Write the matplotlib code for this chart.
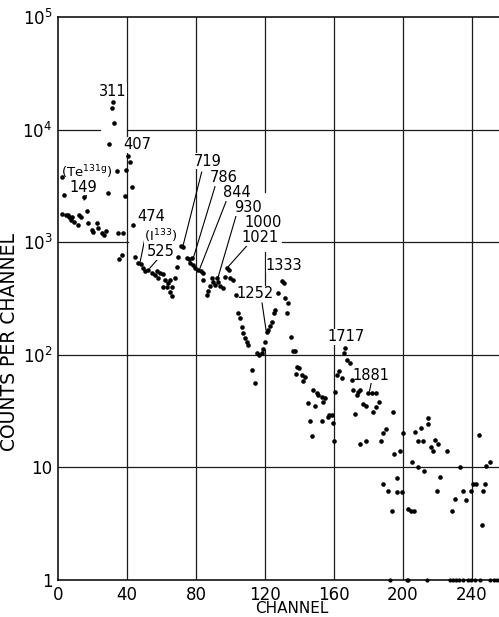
import matplotlib
matplotlib.use('Agg')
import matplotlib.pyplot as plt
from matplotlib.ticker import NullLocator
import numpy as np

plt.rcParams['mathtext.default'] = 'regular'
plt.rcParams['font.family'] = ['DejaVu Sans']

# channel / counts
channel = [2.1, 2.5, 3.7, 4.6, 6.0, 6.6, 7.5, 7.9, 9.4, 11.4, 12.3, 13.3, 15.2, 16.6, 17.6,
           19.5, 20.5, 22.4, 23.4, 25.3, 26.8, 27.7, 28.8, 29.7, 31.1, 32.1, 32.6, 34.0, 35.0,
           35.4, 36.9, 37.9, 38.7, 39.4, 40.5, 42.0, 43.0, 43.7, 44.6, 46.2, 48.1, 49.4, 50.4,
           52.3, 54.3, 56.2, 57.2, 58.1, 59.1, 61.0, 61.0, 62.0, 63.0, 63.9, 64.9, 64.9, 65.9,
           65.9, 67.8, 68.8, 69.7, 71.1, 72.6, 74.6, 76.1, 76.5, 77.5, 78.4, 79.4, 81.3, 82.7,
           83.9, 84.2, 86.4, 87.1, 88.1, 89.1, 90.0, 91.0, 92.0, 92.9, 93.9, 95.8, 96.8, 97.8,
           99.3, 99.7, 101.6, 103.2, 104.3, 105.5, 106.7, 107.4, 108.4, 109.6, 110.4, 112.3,
           114.2, 115.2, 116.7, 118.1, 119.0, 120.0, 121.0, 121.9, 122.9, 123.9, 125.2, 125.8,
           127.7, 129.7, 131.0, 131.6, 132.6, 133.5, 134.9, 136.4, 137.4, 138.0, 138.4, 139.9,
           141.3, 142.2, 143.2, 145.1, 146.1, 147.1, 148.0, 149.0, 150.0, 150.9, 152.9, 152.9,
           153.8, 154.8, 156.3, 157.3, 158.7, 159.2, 160.0, 160.6, 161.9, 163.1, 164.5, 165.8,
           166.4, 167.7, 169.3, 170.3, 171.2, 172.2, 173.2, 174.1, 175.1, 175.1, 177.0, 178.4,
           178.8, 179.9, 181.8, 182.8, 184.2, 184.6, 186.1, 187.1, 188.6, 188.6, 190.2, 191.5,
           193.6, 194.0, 195.0, 196.3, 196.3, 198.3, 199.6, 200.2, 203.1, 204.6, 205.2, 206.6,
           207.0, 208.5, 208.9, 210.3, 211.4, 212.2, 214.3, 214.7, 216.2, 217.2, 218.5, 219.5,
           220.4, 221.4, 225.3, 228.6, 230.1, 233.0, 235.0, 236.3, 239.4, 240.4, 242.1, 244.1,
           245.6, 246.6, 247.5, 248.1, 250.4]
counts = [1770, 3760, 2600, 1745, 1745, 1685, 1575, 1685, 1520, 1420, 1745, 1685, 2540, 1890, 1490,
          1285, 1240, 1470, 1330, 1200, 1160, 1260, 2750, 7450, 15400, 17700, 11400, 4270, 1200,
          710, 770, 1200, 2550, 4340, 5770, 5160, 3080, 1420, 735, 660, 640, 590, 550,
          565, 530, 510, 550, 480, 530, 520, 400, 460, 400, 430, 460, 360, 400,
          330, 480, 605, 745, 925, 900, 730, 705, 660, 720, 630, 590, 565, 550,
          535, 460, 340, 365, 405, 480, 445, 415, 480, 445, 405, 390, 495, 585,
          565, 480, 460, 340, 235, 212, 177, 156, 141, 130, 122, 73,
          56, 103, 100, 103, 112, 131, 160, 166, 180, 197, 234, 250,
          356, 452, 431, 318, 234, 290, 145, 107, 108, 68, 78, 76,
          66, 58, 64, 37, 26, 19, 49, 35, 46, 44, 42.5, 26,
          38, 41, 28, 29, 29, 25, 17.3, 47, 66, 72, 62, 103,
          114, 90, 84, 60, 49, 30, 44, 47, 49, 16, 36.6, 35,
          17.3, 45.5, 45.5, 30.8, 34.2, 46, 37.9, 17.3, 20, 7.1, 21.9, 6.2,
          4.1, 31, 13.2, 8.1, 6.1, 14, 6.1, 20.3, 4.3, 4.1, 11.1, 4.1,
          20.8, 10.1, 17.3, 22.2, 17.3, 9.2, 24.1, 27.3, 15.3, 14, 17.5, 6.2,
          16.1, 8.2, 14.1, 4.1, 5.2, 10.1, 6.2, 5.1, 6.2, 7.1, 7.1, 19.3,
          3.1, 6.2, 7.1, 10.3, 11.2]

# channels sitting at one count (on the axis)
ones_channel = [192.5, 202.1, 202.9, 213.7, 227.2, 229.0, 230.7, 232.5, 234.8, 237.7,
                239.4, 241.7, 244.6, 250.4, 252.8, 254.5]

# peak labels (keV): text, channel, counts
peak_labels = ['311', '407', '(Te$^{131g}$)', '149', '474', '(I$^{133}$)', '525', '719', '786',
               '844', '930', '1000', '1021', '1252', '1333', '1717', '1881']
label_ch = [31.9, 45.8, 16.6, 14.5, 53.9, 59.7, 59.7, 87.0, 96.2,
            103.8, 110.1, 118.8, 117.1, 114.2, 131.0, 167.0, 181.4]
label_ct = [22000, 7300, 4200, 3090, 1675, 1135, 819, 5260, 3716,
            2735, 2013, 1482, 1090, 347, 627, 144, 66]
label_size = [10.5, 10.5, 9.5, 10.5, 10.5, 9.5, 10.5, 10.5, 10.5,
              10.5, 10.5, 10.5, 10.5, 10.5, 10.5, 10.5, 10.5]

# leader lines: (ch0, ct0, ch1, ct1)
leaders = [(16.6, 2625, 15.2, 2370),
           (51.6, 1337, 47.5, 653),
           (57.4, 695, 53.3, 590),
           (83.3, 4200, 72.6, 944),
           (91.0, 3111, 78.4, 719),
           (97.4, 2290, 82.3, 587),
           (103.2, 1709, 92.9, 494),
           (109.4, 925, 98.7, 606),
           (118.3, 288, 120.6, 166),
           (181.7, 57.3, 180.6, 47.7)]

xticks = [0, 40, 80, 120, 160, 200, 240]
yticks = [1, 10, 100, 1000, 1e4, 1e5]
ytick_labels = ['1', '10', '$10^2$', '$10^3$', '$10^4$', '$10^5$']

# grid segments drawn by hand (the draftsman left gaps)
hgrid = {10: [(0, 262)], 100: [(0, 262)], 1000: [(0, 40.6), (129.9, 262)],
         1e4: [(0, 24.3), (40, 262)]}
vgrid = {40: [(1, 1e5)], 80: [(1, 1e5)], 120: [(1, 110), (307, 818), (2790, 1e5)],
         160: [(1, 1e5)], 200: [(1, 1e5)], 240: [(1, 1e5)]}

fig = plt.figure(figsize=(4.99, 6.17), dpi=100)
ax = fig.add_axes([0.1162, 0.05997, 0.8988, 0.9125])
ax.set_yscale('log')
ax.set_xlim(0, 260)
ax.set_ylim(1, 1e5)

for y, segs in hgrid.items():
    for a, b in segs:
        ax.plot([a, b], [y, y], color='0.1', lw=0.9, zorder=1)
for x, segs in vgrid.items():
    for a, b in segs:
        ax.plot([x, x], [a, b], color='0.1', lw=0.9, zorder=1)

ax.plot(channel, counts, 'o', color='black', ms=3.3, mec='none', zorder=3)
ax.plot(ones_channel, [1] * len(ones_channel), 'o', color='black', ms=3.0, mec='none',
        zorder=3, clip_on=False)

for x0, y0, x1, y1 in leaders:
    ax.plot([x0, x1], [y0, y1], color='black', lw=0.8, zorder=2)

for t, x, y, fs in zip(peak_labels, label_ch, label_ct, label_size):
    ax.text(x, y, t, fontsize=fs, ha='center', va='center', zorder=2.2,
            bbox=dict(facecolor='white', edgecolor='none', pad=0.1))

ax.set_xticks(xticks)
ax.set_yticks(yticks)
ax.set_yticklabels(ytick_labels)
ax.yaxis.set_minor_locator(NullLocator())
ax.tick_params(length=0, labelsize=12, pad=4)

ax.spines['right'].set_visible(False)
for s in ['left', 'bottom', 'top']:
    ax.spines[s].set_linewidth(1.1)

ax.set_xlabel('CHANNEL', fontsize=11)
ax.xaxis.set_label_coords((292 - 58) / 448.5, -0.038)
ax.set_ylabel('COUNTS PER CHANNEL', fontsize=13.5)
ax.yaxis.set_label_coords(-0.087, 0.423)

plt.savefig('out.png', dpi=100)
